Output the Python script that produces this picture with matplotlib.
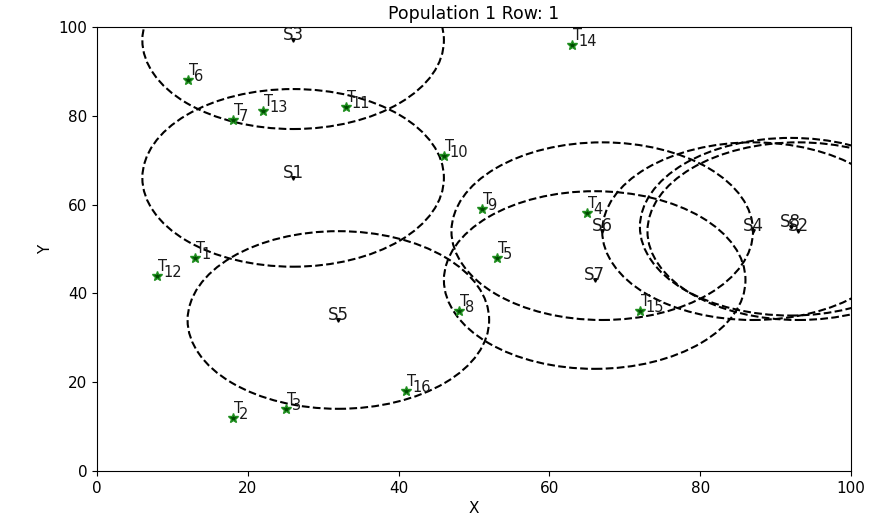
import matplotlib

matplotlib.use("Agg")
import matplotlib.pyplot as plt

# sensors: centre and coverage radius
sensor_labels = ["S1", "S2", "S3", "S4", "S5", "S6", "S7", "S8"]
sensor_x = [26, 93, 26, 87, 32, 67, 66, 92]
sensor_y = [66, 54, 97, 54, 34, 54, 43, 55]
sensor_r = [20, 20, 20, 20, 20, 20, 20, 20]

# targets
target_ids = list(range(1, 17))
target_x = [13, 18, 25, 65, 53, 12, 18, 48, 51, 46, 33, 8, 22, 63, 72, 41]
target_y = [48, 12, 14, 58, 48, 88, 79, 36, 59, 71, 82, 44, 81, 96, 36, 18]

ticks = [0, 20, 40, 60, 80, 100]

fig = plt.figure(figsize=(8.75, 5.17), dpi=100)
ax = fig.add_axes([0.111, 0.089, 0.8616, 0.859])

for lbl, x, y, r in zip(sensor_labels, sensor_x, sensor_y, sensor_r):
    ax.add_patch(plt.Circle((x, y), r, fill=False, linestyle="--",
                            edgecolor="black", linewidth=1.5))
    ax.plot(x, y, marker="v", color="black", markersize=2.5)
    ax.text(x, y, lbl, ha="center", va="baseline", fontsize=12,
            color="#1a1a1a")

ax.plot(target_x, target_y, linestyle="none", marker="*", markersize=7.5,
        markerfacecolor="#004a00", markeredgecolor="#1f8f1f")
for i, x, y in zip(target_ids, target_x, target_y):
    # the "T" sits above the star, the index is tucked under its arm
    ax.annotate("T", (x, y), xytext=(0.7, 3.6), textcoords="offset points",
                fontsize=10.5, color="#1a1a1a")
    ax.annotate(str(i), (x, y), xytext=(4.3, -0.7), textcoords="offset points",
                fontsize=10.5, color="#1a1a1a")

ax.set_xlim(0, 100)
ax.set_ylim(0, 100)
ax.set_xticks(ticks)
ax.set_yticks(ticks)
ax.tick_params(labelsize=11)
ax.set_xlabel("X", fontsize=11)
ax.set_ylabel("Y", fontsize=11)
ax.set_title("Population 1 Row: 1", fontsize=12.5)

fig.savefig("out.png", dpi=100)
